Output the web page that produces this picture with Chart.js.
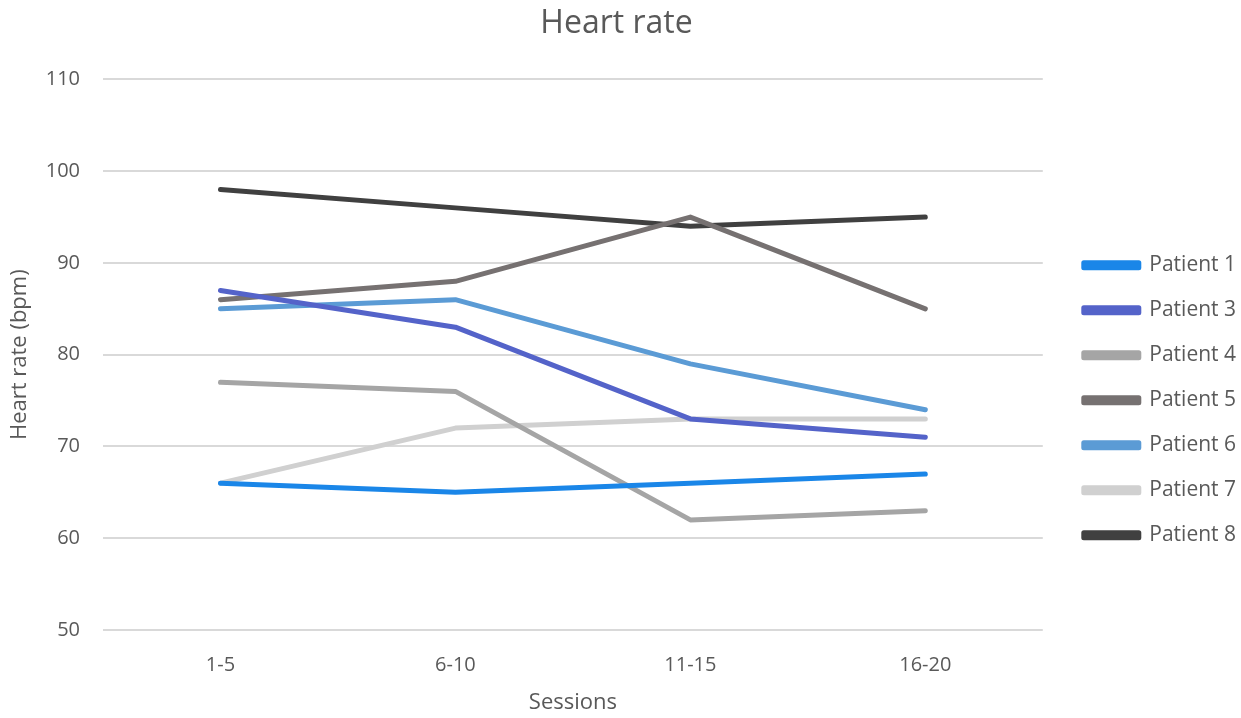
<!DOCTYPE html>
<html>
<head>
<meta charset="utf-8">
<script src="https://cdn.jsdelivr.net/npm/chart.js@4"></script>
<style>
  html, body { margin: 0; padding: 0; background: #fff; }
  #wrap { width: 1241px; height: 718px; }
</style>
</head>
<body>
<div id="wrap"><canvas id="hrChart" width="1241" height="718"></canvas></div>
<script>
  // Chart data
  const sessions = ["1-5", "6-10", "11-15", "16-20"];
  const patientNames = ["Patient 1", "Patient 3", "Patient 4", "Patient 5", "Patient 6", "Patient 7", "Patient 8"];
  const patient1 = [66, 65, 66, 67];
  const patient3 = [87, 83, 73, 71];
  const patient4 = [77, 76, 62, 63];
  const patient5 = [86, 88, 95, 85];
  const patient6 = [85, 86, 79, 74];
  const patient7 = [66, 72, 73, 73];
  const patient8 = [98, 96, 94, 95];
  const yTicks = [50, 60, 70, 80, 90, 100, 110];

  const seriesValues = [patient1, patient3, patient4, patient5, patient6, patient7, patient8];
  const lineColors = ["#1a86e8", "#5463c9", "#a5a5a5", "#767171", "#5b9bd5", "#d0d0d0", "#404040"];

  const FONT = "'Open Sans', 'Noto Sans', sans-serif";
  const TEXT = "#595959";

  const datasets = seriesValues.map((vals, i) => ({
    label: patientNames[i],
    data: vals,
    borderColor: lineColors[i],
    backgroundColor: lineColors[i],
    borderWidth: 5,
    borderCapStyle: "round",
    borderJoinStyle: "round",
    pointRadius: 0,
    pointHoverRadius: 0,
    tension: 0,
    fill: false
  }));

  // nudge legend items a bit right of the plot, like the Excel original
  const legendShift = {
    id: "legendShift",
    afterLayout(chart) {
      chart.legend.left += 17;
      chart.legend.right += 17;
    }
  };

  new Chart(document.getElementById("hrChart").getContext("2d"), {
    type: "line",
    data: { labels: sessions, datasets: datasets },
    options: {
      responsive: false,
      animation: false,
      layout: { padding: { top: 0, left: 4, right: 12, bottom: 0 } },
      plugins: {
        title: {
          display: true,
          text: "Heart rate",
          color: TEXT,
          font: { family: FONT, size: 32, weight: "normal" },
          padding: { top: 5, bottom: 36 }
        },
        legend: {
          position: "right",
          align: "center",
          title: { display: true, text: "", padding: { top: 68 } },
          labels: {
            boxWidth: 55,
            boxHeight: 5,
            padding: 24,
            color: TEXT,
            font: { family: FONT, size: 21 }
          }
        },
        tooltip: { enabled: false }
      },
      scales: {
        x: {
          offset: true,
          grid: { display: false },
          border: { display: false },
          afterFit: axis => { axis.height = 88; },
          ticks: { color: TEXT, font: { family: FONT, size: 20 }, padding: 15 },
          title: {
            display: true,
            text: "Sessions",
            color: TEXT,
            font: { family: FONT, size: 22 },
            padding: { top: 4, bottom: 2 }
          }
        },
        y: {
          min: yTicks[0],
          max: yTicks[yTicks.length - 1],
          afterBuildTicks: axis => { axis.ticks = yTicks.map(v => ({ value: v })); },
          afterFit: axis => { axis.width = 99; },
          grid: { color: "#d9d9d9", lineWidth: 2, drawTicks: false },
          border: { display: false },
          ticks: { color: TEXT, font: { family: FONT, size: 20 }, padding: 23 },
          title: {
            display: true,
            text: "Heart rate (bpm)",
            color: TEXT,
            font: { family: FONT, size: 22 },
            padding: { top: 3, bottom: 4 }
          }
        }
      }
    },
    plugins: [legendShift]
  });
</script>
</body>
</html>
